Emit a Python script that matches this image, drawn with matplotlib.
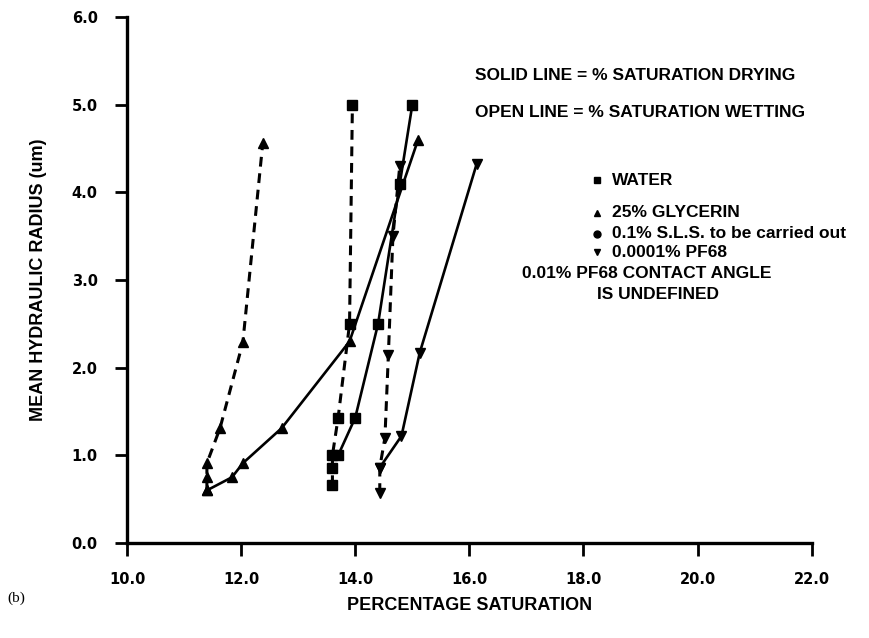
import matplotlib
matplotlib.use("Agg")
import matplotlib.pyplot as plt

# drying curves (solid) and wetting curves (dashed)
water_dry_x = [13.7, 14.0, 14.4, 14.78, 15.0]
water_dry_y = [1.0, 1.43, 2.5, 4.1, 5.0]
water_wet_x = [13.6, 13.6, 13.6, 13.7, 13.9, 13.95]
water_wet_y = [0.66, 0.85, 1.0, 1.43, 2.5, 5.0]

glyc_dry_x = [11.4, 11.84, 12.03, 12.71, 13.9, 15.1]
glyc_dry_y = [0.6, 0.75, 0.91, 1.31, 2.3, 4.6]
glyc_wet_x = [11.4, 11.4, 11.4, 11.63, 12.03, 12.38]
glyc_wet_y = [0.6, 0.75, 0.91, 1.31, 2.29, 4.57]

pf68_dry_x = [14.43, 14.81, 15.13, 16.13]
pf68_dry_y = [0.86, 1.22, 2.17, 4.33]
pf68_wet_x = [14.43, 14.43, 14.52, 14.58, 14.66, 14.78]
pf68_wet_y = [0.57, 0.86, 1.2, 2.14, 3.5, 4.3]

x_ticks = [10.0, 12.0, 14.0, 16.0, 18.0, 20.0, 22.0]
y_ticks = [0.0, 1.0, 2.0, 3.0, 4.0, 5.0, 6.0]

legend_items = [
    ("s", "WATER"),
    ("^", "25% GLYCERIN"),
    ("o", "0.1% S.L.S. to be carried out"),
    ("v", "0.0001% PF68"),
]

plt.rcParams["font.family"] = ["Liberation Sans", "DejaVu Sans"]
plt.rcParams["font.weight"] = "bold"

fig = plt.figure(figsize=(8.7, 6.38), dpi=100)
ax = fig.add_axes([0.146, 0.149, 0.787, 0.824])

solid = dict(color="black", lw=1.9, ms=7)
dashed = dict(color="black", lw=2.2, ms=7, dashes=(3.2, 2.2))

ax.plot(water_dry_x, water_dry_y, marker="s", **solid)
ax.plot(water_wet_x, water_wet_y, marker="s", **dashed)
ax.plot(glyc_dry_x, glyc_dry_y, marker="^", **solid)
ax.plot(glyc_wet_x, glyc_wet_y, marker="^", **dashed)
ax.plot(pf68_dry_x, pf68_dry_y, marker="v", **solid)
ax.plot(pf68_wet_x, pf68_wet_y, marker="v", **dashed)

ax.set_xlim(10, 22)
ax.set_ylim(0, 6)
ax.set_xticks(x_ticks)
ax.set_yticks(y_ticks)
tick_font = dict(family=["DejaVu Sans"], fontweight="bold", fontsize=10.5)
ax.set_xticklabels([f"{v:.1f}" for v in x_ticks], **tick_font)
ax.set_yticklabels([f"{v:.1f}" for v in y_ticks], **tick_font)
ax.tick_params(direction="out", length=9, width=2, pad=12)
for side in ("top", "right"):
    ax.spines[side].set_visible(False)
for side in ("left", "bottom"):
    ax.spines[side].set_linewidth(2.4)

ax.set_xlabel("PERCENTAGE SATURATION", fontsize=13, fontweight="bold", labelpad=7)
ax.set_ylabel("MEAN HYDRAULIC RADIUS (um)", fontsize=13, fontweight="bold", labelpad=18)

txt = dict(fontsize=12.5, fontweight="bold", va="center", ha="left")
ax.text(16.1, 5.34, "SOLID LINE = % SATURATION DRYING", **txt)
ax.text(16.1, 4.91, "OPEN LINE = % SATURATION WETTING", **txt)

ly = [4.14, 3.77, 3.53, 3.32]
for (mk, label), yy in zip(legend_items, ly):
    ax.plot([18.23], [yy], marker=mk, color="black", ms=5, ls="none")
    ax.text(18.5, yy, label, **txt)
ax.text(16.92, 3.08, "0.01% PF68 CONTACT ANGLE", **txt)
ax.text(18.23, 2.83, "IS UNDEFINED", **txt)

fig.text(0.009, 0.062, "(b)", fontsize=11, fontweight="normal",
         family=["Liberation Serif", "DejaVu Serif"], va="center", ha="left")

fig.savefig("out.png", dpi=100)
